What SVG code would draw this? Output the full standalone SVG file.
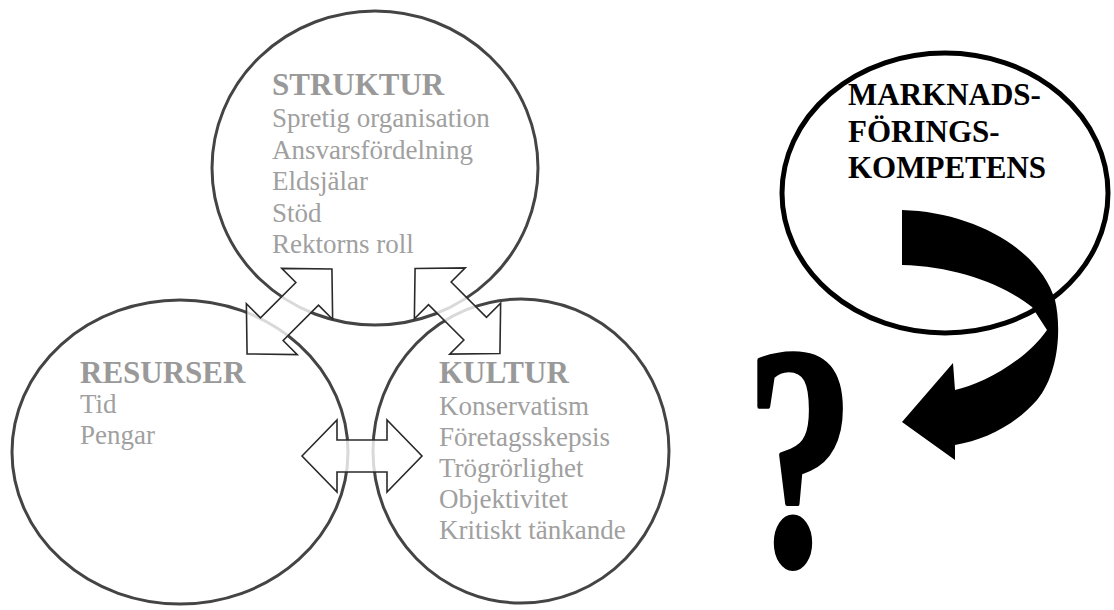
<svg xmlns="http://www.w3.org/2000/svg" width="1114" height="610" viewBox="0 0 1114 610">
  <style>
    .ring { fill: none; stroke: #444444; stroke-width: 3; }
    .head { font-family: "Liberation Serif", "Times New Roman", serif; font-weight: bold; font-size: 31px; fill: #999999; }
    .body { font-family: "Liberation Serif", "Times New Roman", serif; font-size: 27px; fill: #a0a0a0; }
    .mk { font-family: "Liberation Serif", "Times New Roman", serif; font-weight: bold; font-size: 31px; fill: #000000; }
    .dbl { fill: #ffffff; fill-opacity: 0.8; stroke: #2a2a2a; stroke-width: 1.6; stroke-linejoin: miter; }
  </style>
  <defs>
    <polygon id="dblArrow" points="-60,0 -25,-36 -25,-16 25,-16 25,-36 60,0 25,36 25,16 -25,16 -25,36"/>
  </defs>
  <rect width="1114" height="610" fill="#ffffff"/>

  <g id="node-struktur">
    <ellipse class="ring" cx="375" cy="168" rx="163" ry="157"/>
    <text class="head" x="272" y="95">STRUKTUR</text>
    <text class="body" x="272" y="127">Spretig organisation</text>
    <text class="body" x="272" y="158.5">Ansvarsfördelning</text>
    <text class="body" x="272" y="190">Eldsjälar</text>
    <text class="body" x="272" y="221.5">Stöd</text>
    <text class="body" x="272" y="253">Rektorns roll</text>
  </g>

  <g id="node-resurser">
    <ellipse class="ring" cx="180" cy="452" rx="168" ry="152"/>
    <text class="head" x="80" y="383">RESURSER</text>
    <text class="body" x="80" y="413">Tid</text>
    <text class="body" x="80" y="444">Pengar</text>
  </g>

  <g id="node-kultur">
    <ellipse class="ring" cx="521" cy="451" rx="148" ry="152"/>
    <text class="head" x="439" y="383">KULTUR</text>
    <text class="body" x="439" y="415">Konservatism</text>
    <text class="body" x="439" y="446">Företagsskepsis</text>
    <text class="body" x="439" y="477">Trögrörlighet</text>
    <text class="body" x="439" y="508">Objektivitet</text>
    <text class="body" x="439" y="539">Kritiskt tänkande</text>
  </g>

  <g id="node-marknadsforing">
    <ellipse cx="945" cy="193" rx="163" ry="140" fill="none" stroke="#000000" stroke-width="5"/>
    <text class="mk" x="848" y="105">MARKNADS-</text>
    <text class="mk" x="848" y="141.5">FÖRINGS-</text>
    <text class="mk" x="848" y="178">KOMPETENS</text>
  </g>

  <g id="node-question">
    <text x="0" y="0" transform="translate(800,564) scale(1,1.47)" text-anchor="middle" font-family="Liberation Serif, Times New Roman, serif" font-weight="bold" font-size="216" fill="#000000" stroke="#000000" stroke-width="3.5" stroke-linejoin="round">?</text>
  </g>

  <g id="connectors">
    <use href="#dblArrow" class="dbl" transform="translate(289.5,311.5) rotate(-45)"/>
    <use href="#dblArrow" class="dbl" transform="translate(457.5,311) rotate(45)"/>
    <use href="#dblArrow" class="dbl" transform="translate(362,456)"/>
    <path id="curved-arrow" fill="#000000" d="M902,210 C975,212 1040,250 1055,300 C1062,330 1058,375 1037,400 C1015,425 985,440 955,445 L955,460 L902,422 L953,363 L955,390 C980,385 1025,362 1047,330 L1032,307 C1005,285 955,266 902,265 Z"/>
  </g>
</svg>
